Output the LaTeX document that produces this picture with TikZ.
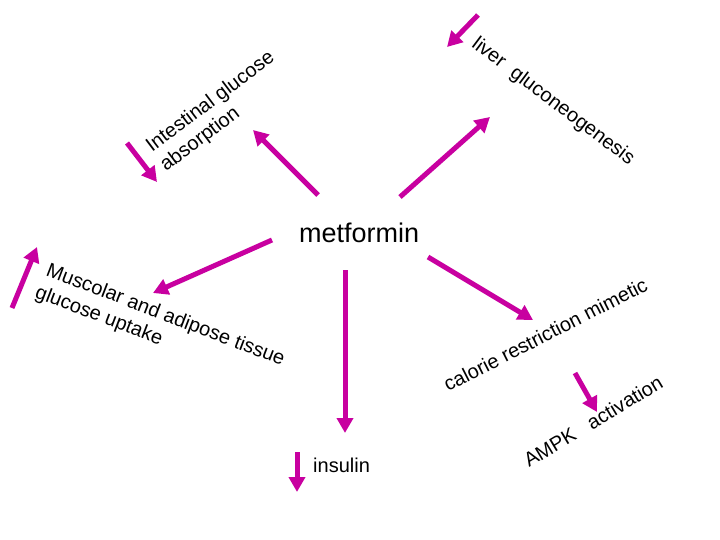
\documentclass[tikz,border=0pt]{standalone}
\usepackage{fontspec}
\setmainfont{Liberation Sans}
\usetikzlibrary{arrows.meta}
\definecolor{mag}{RGB}{200,0,160}
\tikzset{
  arr/.style={draw=mag, line width=5pt, -{Triangle[length=15pt,width=16pt]}},
  lbl/.style={inner sep=0pt, font=\fontsize{20}{23}\selectfont},
  big/.style={inner sep=0pt, font=\fontsize{27}{30}\selectfont}
}
\begin{document}
\begin{tikzpicture}[x=1pt,y=-1pt]
\useasboundingbox[fill=white] (0,0) rectangle (720,540);

% central node
\node[big, anchor=base west] (met) at (299,242) {metformin};

% labels
\node[lbl, anchor=base west, rotate=37] (int1) at (152,153) {Intestinal glucose};
\node[lbl, anchor=base west, rotate=37] (int2) at (166,172) {absorption};
\node[lbl, anchor=center, rotate=-37] (liver) at (553,102) {liver\ \ gluconeogenesis};
\node[lbl, anchor=base west, rotate=-21] (mus1) at (45,275) {Muscolar and adipose tissue};
\node[lbl, anchor=base west, rotate=-21] (mus2) at (34,297) {glucose uptake};
\node[lbl, anchor=base west, rotate=27] (cal) at (448,392) {calorie restriction mimetic};
\node[lbl, anchor=base west, rotate=31] (ampk) at (529,468) {AMPK\ \ \ activation};
\node[lbl, anchor=base west] (ins) at (313,472) {insulin};

% connector end points
\coordinate (m1) at (318,195);  \coordinate (e1) at (253,130);
\coordinate (m2) at (400,197);  \coordinate (e2) at (490,117);
\coordinate (m3) at (272,240);  \coordinate (e3) at (153,293);
\coordinate (m4) at (345,270);  \coordinate (e4) at (345,433);
\coordinate (m5) at (428,257);  \coordinate (e5) at (533,320);

\draw[arr] (m1) -- (e1);
\draw[arr] (m2) -- (e2);
\draw[arr] (m3) -- (e3);
\draw[arr] (m4) -- (e4);
\draw[arr] (m5) -- (e5);

% small indicator arrows
\coordinate (s1a) at (127,143); \coordinate (s1b) at (157,182);
\coordinate (s2a) at (478,15);  \coordinate (s2b) at (447,47);
\coordinate (s3a) at (12,308);  \coordinate (s3b) at (37,247);
\coordinate (s4a) at (297,452); \coordinate (s4b) at (297,492);
\coordinate (s5a) at (575,373); \coordinate (s5b) at (597,412);

\draw[arr] (s1a) -- (s1b);
\draw[arr] (s2a) -- (s2b);
\draw[arr] (s3a) -- (s3b);
\draw[arr] (s4a) -- (s4b);
\draw[arr] (s5a) -- (s5b);
\end{tikzpicture}
\end{document}
